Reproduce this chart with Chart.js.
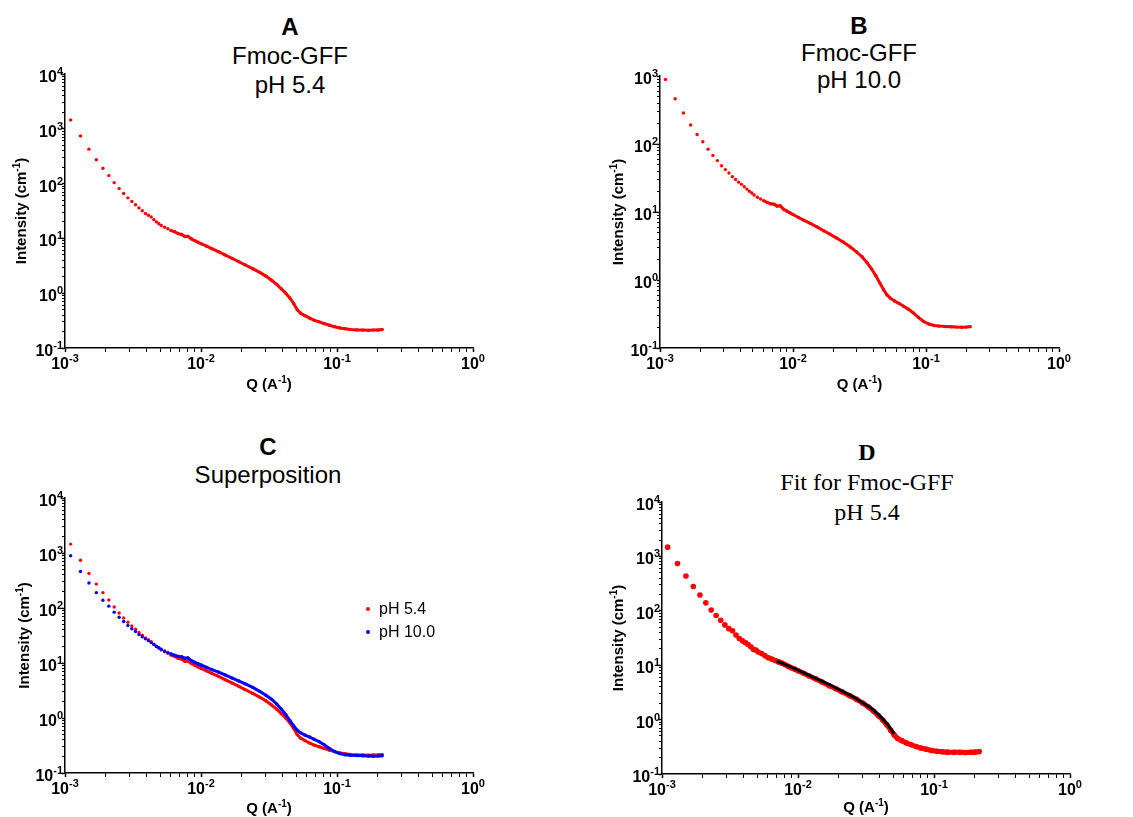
<!DOCTYPE html>
<html>
<head>
<meta charset="utf-8">
<script src="https://cdn.jsdelivr.net/npm/chart.js@4.4.1/dist/chart.umd.min.js"></script>
<style>
  body { margin: 0; background: #fff; width: 1133px; height: 817px; position: relative; overflow: hidden;
         font-family: Arial, "Liberation Sans", sans-serif; color: #000; }
  canvas { position: absolute; }
  .ttl { position: absolute; transform: translateX(-50%); text-align: center; white-space: nowrap; font-size: 24px; }
  .serif { font-family: "Times New Roman", "Liberation Serif", serif; }
  .legend { position: absolute; left: 366px; top: 597px; font-size: 16px; line-height: 23px; }
  .legend span.dot { display: inline-block; width: 4px; height: 4px; border-radius: 2px; margin-right: 9px; vertical-align: middle; position: relative; top: -1px; }
</style>
</head>
<body>

<div class="ttl" style="left:290px; top:12px; line-height:29px;"><b>A</b><br>Fmoc-GFF<br>pH 5.4</div>
<div class="ttl" style="left:859px; top:12px; line-height:27px;"><b>B</b><br>Fmoc-GFF<br>pH 10.0</div>
<div class="ttl" style="left:268px; top:433px; line-height:28px;"><b>C</b><br>Superposition</div>
<div class="ttl serif" style="left:867px; top:437px; line-height:30px;"><b>D</b><br>Fit for Fmoc-GFF<br>pH 5.4</div>

<canvas id="chartA" width="566" height="405" style="left:0; top:0;"></canvas>
<canvas id="chartB" width="567" height="405" style="left:566px; top:0;"></canvas>
<canvas id="chartC" width="566" height="420" style="left:0; top:405px;"></canvas>
<canvas id="chartD" width="567" height="420" style="left:566px; top:405px;"></canvas>

<div class="legend">
  <div><span class="dot" style="background:#ff0000"></span>pH 5.4</div>
  <div><span class="dot" style="background:#0000ff"></span>pH 10.0</div>
</div>

<script>
// Q values (A^-1), shared by the measured curves
const qValues = [0.0011, 0.0013, 0.0015, 0.0017, 0.0019, 0.0021, 0.0023, 0.0025, 0.0027, 0.0029,
  0.0031, 0.0033, 0.0035, 0.0037, 0.0039, 0.0041, 0.0043, 0.0045, 0.0047, 0.0049, 0.0051,
  0.0054, 0.0057, 0.0060, 0.0064, 0.0068, 0.0072, 0.0076, 0.0080, 0.0085, 0.0090, 0.0095, 0.0100,
  0.0110, 0.0120, 0.0135, 0.0150, 0.0170, 0.0190, 0.0210,
  0.0240, 0.0270, 0.0300, 0.0330, 0.0360, 0.0390, 0.0420, 0.0450, 0.0480, 0.0510, 0.0540,
  0.0580, 0.0630, 0.0680, 0.0740, 0.0800, 0.0880, 0.0960,
  0.105, 0.115, 0.125, 0.140, 0.155, 0.170, 0.185, 0.200, 0.215];

// Intensity (cm^-1), Fmoc-GFF pH 5.4
const intensityPH54 = [1450, 740, 425, 272, 190, 140, 104, 81, 66, 55,
  47, 41, 36, 32, 28.5, 26.5, 24.5, 22, 20, 18.5, 17.2,
  16, 15, 14,
  13.2, 12.2, 11.8, 10.8, 10.9,
  9.8, 9.1, 8.5, 8.0,
  7.2, 6.5, 5.7, 5.0, 4.3, 3.75, 3.3,
  2.8, 2.4, 2.05, 1.72, 1.45, 1.2, 1.0, 0.82, 0.65, 0.5, 0.43,
  0.39, 0.35, 0.32, 0.30, 0.28, 0.26, 0.245,
  0.232, 0.224, 0.218, 0.214, 0.212, 0.21, 0.212, 0.213, 0.218];

// Intensity (cm^-1), Fmoc-GFF pH 10.0
const intensityPH100 = [890, 462, 285, 190, 138, 108, 84, 68, 57, 48,
  42, 37.5, 33, 30, 27.5, 25.5, 23.5, 21.7, 20.2, 19, 17.8,
  16.5, 15.5, 14.7,
  13.8, 13.2, 13.0, 12.2, 12.4,
  11.0, 10.3, 9.7, 9.2,
  8.3, 7.6, 6.8, 6.1, 5.3, 4.7, 4.2,
  3.6, 3.05, 2.6, 2.2, 1.8, 1.45, 1.15, 0.9, 0.72, 0.6, 0.54,
  0.49, 0.45, 0.41, 0.37, 0.33, 0.28, 0.245,
  0.225, 0.214, 0.21, 0.207, 0.205, 0.203, 0.202, 0.203, 0.206];

// Intensity (cm^-1), pH 5.4 data as shown in the fit panel
const intensityFitPanel = [1480, 740, 435, 280, 195, 140, 103, 82, 67, 55,
  47, 43, 36, 31, 28, 26, 24, 21.8, 19.5, 18.9, 17.5,
  16.4, 15, 13.8,
  13, 12.2, 11.5, 10.9, 10.3,
  9.5, 8.9, 8.4, 7.9,
  7.1, 6.4, 5.6, 4.9, 4.2, 3.7, 3.25,
  2.75, 2.35, 2.0, 1.7, 1.42, 1.18, 0.98, 0.8, 0.64, 0.52, 0.45,
  0.41, 0.37, 0.345, 0.32, 0.30, 0.285, 0.27,
  0.262, 0.256, 0.252, 0.25, 0.25, 0.249, 0.25, 0.252, 0.258];

// fitted model curve
const qFit = [0.007, 0.008, 0.009, 0.010, 0.012, 0.015, 0.018, 0.021, 0.025, 0.030, 0.035, 0.040, 0.045, 0.051];
const intensityFit = [11.9, 10.4, 9.1, 8.1, 6.6, 5.1, 4.1, 3.35, 2.7, 2.05, 1.58, 1.17, 0.85, 0.55];

// axis decades and minor tick multipliers
const xDecades = [-3, -2, -1, 0];
const yDecadesFull = [-1, 0, 1, 2, 3, 4];
const yDecadesB = [-1, 0, 1, 2, 3];
const minorSteps = [2, 3, 4, 5, 6, 7, 8, 9];

const FONT = "Arial, 'Liberation Sans', sans-serif";

function isDecade(v) {
  const e = Math.log10(v);
  return Math.abs(e - Math.round(e)) < 1e-6;
}

function tickList(decades) {
  const t = [];
  decades.forEach((d, i) => {
    t.push(Math.pow(10, d));
    if (i < decades.length - 1) minorSteps.forEach(m => t.push(m * Math.pow(10, d)));
  });
  return t;
}

function toPoints(qs, is) {
  return qs.map((q, i) => ({ x: q, y: is[i] }));
}

// text with superscript pieces: parts = [text, size, raise]
function drawRich(ctx, parts, x, y, align) {
  let w = 0;
  parts.forEach(([t, size]) => { ctx.font = `bold ${size}px ${FONT}`; w += ctx.measureText(t).width; });
  let cx = align === "center" ? x - w / 2 : (align === "right" ? x - w : x);
  parts.forEach(([t, size, raise]) => {
    ctx.font = `bold ${size}px ${FONT}`;
    ctx.fillText(t, cx, y - raise);
    cx += ctx.measureText(t).width;
  });
}

// tick labels 10^n and axis titles with real superscripts
function labelPlugin(p) {
  return {
    id: "supLabels",
    afterDraw(chart) {
      const ctx = chart.ctx;
      const xs = chart.scales.x, ys = chart.scales.y, area = chart.chartArea;
      ctx.save();
      ctx.fillStyle = "#000";
      ctx.textAlign = "left";
      ctx.textBaseline = "alphabetic";
      xs.ticks.forEach(t => {
        if (!isDecade(t.value)) return;
        const e = String(Math.round(Math.log10(t.value)));
        drawRich(ctx, [["10", 16, 0], [e, 11, 7]], xs.getPixelForValue(t.value), xs.top + 21, "center");
      });
      ys.ticks.forEach(t => {
        if (!isDecade(t.value)) return;
        const e = String(Math.round(Math.log10(t.value)));
        drawRich(ctx, [["10", 16, 0], [e, 11, 7]], ys.right - 2, ys.getPixelForValue(t.value) + 8, "right");
      });
      drawRich(ctx, [["Q (A", 15, 0], ["-1", 10, 6], [")", 15, 0]], (area.left + area.right) / 2, p.xTitleBase, "center");
      ctx.translate(p.yTitleX, (area.top + area.bottom) / 2);
      ctx.rotate(-Math.PI / 2);
      drawRich(ctx, [["Intensity (cm", 15, 0], ["-1", 10, 6], [")", 15, 0]], 0, 5, "center");
      ctx.restore();
    }
  };
}

function axis(kind, decades, p) {
  return {
    type: "logarithmic",
    min: Math.pow(10, decades[0]),
    max: Math.pow(10, decades[decades.length - 1]),
    afterBuildTicks: s => { s.ticks = tickList(decades).map(v => ({ value: v })); },
    afterFit: s => { if (kind === "x") s.height = p.xH; else s.width = 65; },
    border: { display: true, color: "#000", width: 1.5 },
    grid: {
      drawOnChartArea: false, drawTicks: true, tickLength: kind === "x" ? 4 : 3, tickColor: "#000",
      tickWidth: c => (c.tick && isDecade(c.tick.value)) ? 1.5 : 1
    },
    ticks: { autoSkip: false, maxRotation: 0, padding: 0, callback: () => "" },
    title: { display: false }
  };
}

// dotted series: dense part drawn as a thick band through the same points
function scatterSet(label, qs, is, color, radius, band, order) {
  return {
    label, order,
    data: toPoints(qs, is),
    showLine: true,
    borderColor: color,
    borderWidth: band,
    pointRadius: radius,
    pointBorderWidth: 0,
    pointBackgroundColor: color,
    segment: { borderColor: c => c.p0.parsed.x < 0.0059 ? "rgba(0,0,0,0)" : color }
  };
}

function makeChart(id, datasets, yDecades, p) {
  return new Chart(document.getElementById(id), {
    type: "scatter",
    data: { datasets },
    options: {
      responsive: false,
      animation: false,
      devicePixelRatio: 1,
      layout: { padding: p.pad },
      plugins: { legend: { display: false }, tooltip: { enabled: false } },
      scales: { x: axis("x", xDecades, p), y: axis("y", yDecades, p) }
    },
    plugins: [labelPlugin(p)]
  });
}

makeChart("chartA", [scatterSet("pH 5.4", qValues, intensityPH54, "#ff0000", 1.7, 3, 1)], yDecadesFull,
  { pad: { left: 0, top: 74, right: 93, bottom: 0 }, xH: 57, xTitleBase: 389, yTitleX: 21 });

makeChart("chartB", [scatterSet("pH 10.0", qValues, intensityPH100, "#ff0000", 1.7, 3, 1)], yDecadesB,
  { pad: { left: 29, top: 76, right: 74, bottom: 0 }, xH: 57, xTitleBase: 389, yTitleX: 52 });

makeChart("chartC", [
  scatterSet("pH 5.4", qValues, intensityPH54, "#ff0000", 1.7, 3, 2),
  scatterSet("pH 10.0", qValues, intensityPH100, "#0000ff", 1.7, 3, 1)
], yDecadesFull,
  { pad: { left: 0, top: 93, right: 93, bottom: 0 }, xH: 52, xTitleBase: 408, yTitleX: 24 });

makeChart("chartD", [
  {
    label: "Fit", order: 1,
    data: toPoints(qFit, intensityFit),
    showLine: true, borderColor: "#000", borderWidth: 3, pointRadius: 0
  },
  scatterSet("pH 5.4", qValues, intensityFitPanel, "#ff0000", 2.8, 5, 2)
], yDecadesFull,
  { pad: { left: 31, top: 97, right: 63, bottom: 0 }, xH: 51, xTitleBase: 407, yTitleX: 52 });
</script>
</body>
</html>
